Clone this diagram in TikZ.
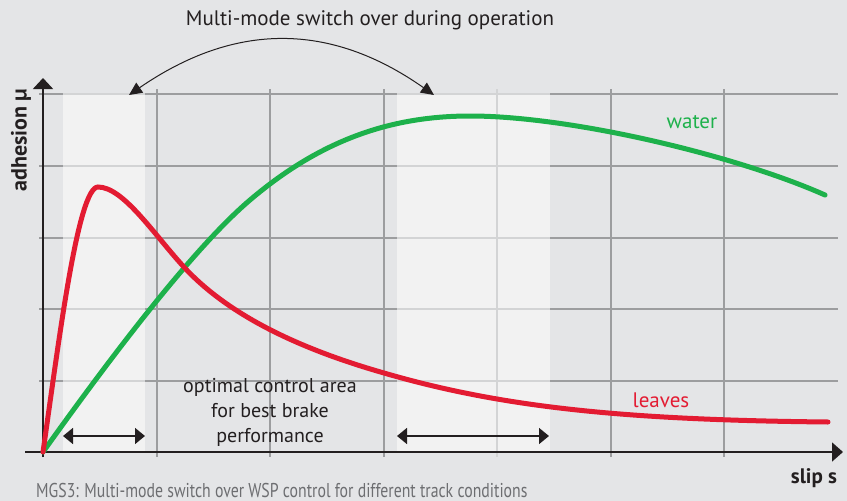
\documentclass[tikz,border=0pt]{standalone}
\usepackage{fontspec}
\setmainfont{PT Sans}
\usetikzlibrary{arrows.meta}
\definecolor{bg}{HTML}{E4E5E7}
\definecolor{bandc}{HTML}{F2F2F2}
\definecolor{gridd}{HTML}{9C9D9F}
\definecolor{gridl}{HTML}{D3D4D5}
\definecolor{axisc}{HTML}{231F20}
\definecolor{redc}{HTML}{E31B32}
\definecolor{greenc}{HTML}{1DB14B}
\definecolor{capc}{HTML}{6D6E71}
\tikzset{
  gdark/.style={draw=gridd, line width=1.8pt},
  glight/.style={draw=gridl, line width=1.8pt},
  axisline/.style={draw=axisc, line width=1.6pt},
  curve/.style={line width=5pt, line cap=round},
  dbl/.style={draw=axisc, line width=1.5pt, {Triangle[length=10pt,width=16pt]}-{Triangle[length=10pt,width=16pt]}},
  lbl/.style={inner sep=0pt, font=\fontsize{21}{24}\selectfont},
}
\begin{document}
\begin{tikzpicture}[x=1pt,y=-1pt]
\useasboundingbox (0,0) rectangle (847,501);
\fill[bg] (0,0) rectangle (847,501);
% bands
\fill[bandc] (63,94) rectangle (145,452);
\fill[bandc] (397,94) rectangle (550,452);
% grid
\foreach \y in {94,166,238,309,381} {
  \draw[gdark] (39,\y) -- (63,\y);
  \draw[gdark] (145,\y) -- (397,\y);
  \draw[gdark] (550,\y) -- (838,\y);
  \draw[glight] (63,\y) -- (145,\y);
  \draw[glight] (397,\y) -- (550,\y);
}
\foreach \x in {157,270,384,611,724} {
  \draw[gdark] (\x,89) -- (\x,457);
}
\draw[glight] (497,89) -- (497,457);
% axes
\coordinate (xs) at (25,452);
\coordinate (xe) at (843,452);
\coordinate (ys) at (43,457);
\coordinate (ye) at (43,78);
\draw[axisline, -{Triangle[length=11pt,width=19pt]}] (xs) -- (xe);
\draw[axisline, -{Triangle[length=11pt,width=20pt]}] (ys) -- (ye);
% curves
\coordinate (o) at (43,452);
\draw[curve, greenc] (o) .. controls (103,368) and (190,251) .. (250,200)
  .. controls (320,140.5) and (390,116) .. (470,116)
  .. controls (570,116) and (735,155) .. (825,195);
\draw[curve, redc] (o) .. controls (59,340) and (78,187) .. (98,187)
  .. controls (123,187) and (153,233) .. (183,266)
  .. controls (233,321) and (314,353) .. (384,373)
  .. controls (504,408) and (628,420) .. (828,422);
% switch arrow
\coordinate (la) at (129,95);
\coordinate (ra) at (434,95);
\draw[draw=axisc, line width=1pt, {Triangle[length=13pt,width=12pt]}-{Triangle[length=13pt,width=12pt]}] (la) .. controls (235,22) and (330,22) .. (ra);
% range arrows
\coordinate (a1) at (63,436);
\coordinate (b1) at (145,436);
\coordinate (a2) at (397,436);
\coordinate (b2) at (549,436);
\draw[dbl] (a1) -- (b1);
\draw[dbl] (a2) -- (b2);
% texts
\node[inner sep=0pt, font=\fontsize{21}{24}\selectfont, text=axisc] (title) at (370,20) {Multi-mode switch over during operation};
\node[inner sep=0pt, rotate=90, font=\fontsize{22}{24}\selectfont\bfseries, text=axisc] (ylab) at (21,140) {adhesion µ};
\node[inner sep=0pt, font=\fontsize{21}{24}\selectfont\bfseries, text=axisc] (xlab) at (814,478) {slip s};
\node[lbl, text=greenc] (water) at (692,122) {water};
\node[lbl, text=redc] (leaves) at (661,400) {leaves};
\node[inner sep=0pt, align=center, font=\fontsize{20}{25}\selectfont, text=axisc] (opt) at (270,412) {optimal control area\\for best brake\\performance};
\node[inner sep=0pt, anchor=base west, font=\fontsize{20}{24}\selectfont, text=capc] (cap) at (36,497) {\scalebox{0.79}[1]{MGS3: Multi-mode switch over WSP control for different track conditions}};
\end{tikzpicture}
\end{document}
